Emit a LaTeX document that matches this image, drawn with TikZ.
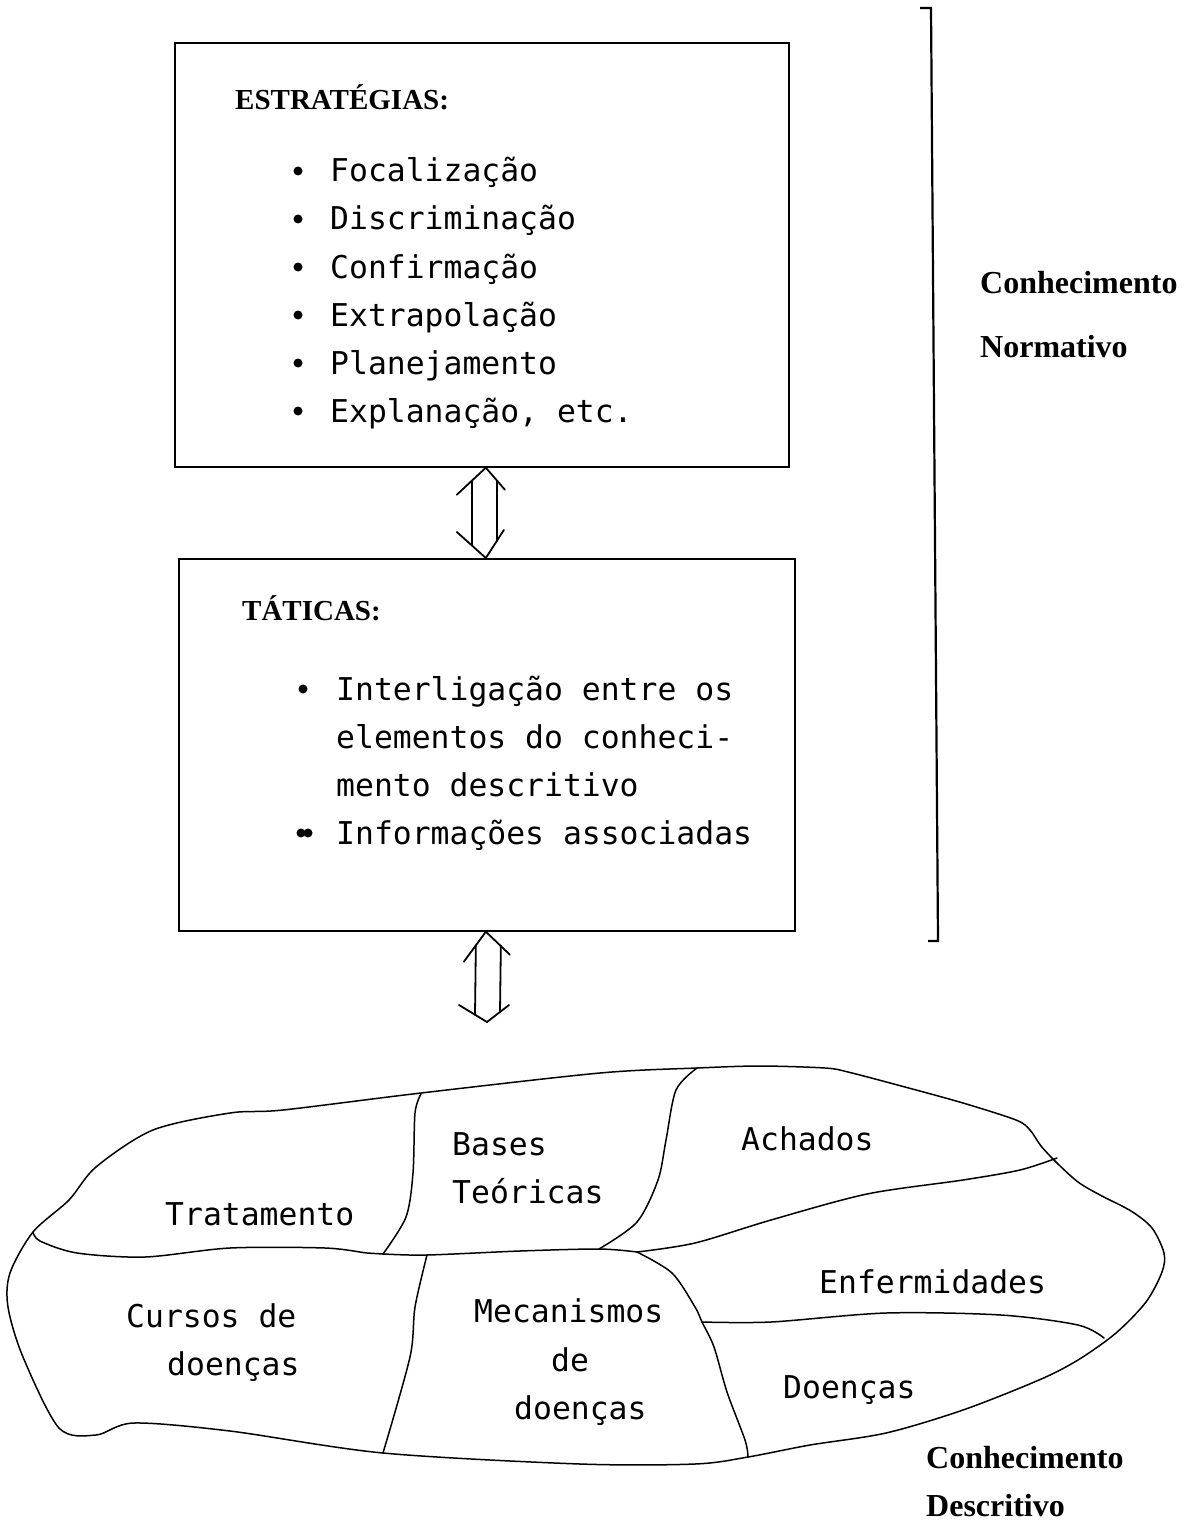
\documentclass[tikz,border=0pt]{standalone}
\usepackage{fontspec}
\setmainfont{Liberation Serif}
\setmonofont{DejaVu Sans Mono}
\usetikzlibrary{calc}
\begin{document}
\begin{tikzpicture}[x=1pt,y=-1pt,
  frame/.style={draw, line width=1.7pt, inner sep=0pt, anchor=north west},
  mono/.style={font=\fontsize{31.4}{36}\selectfont\ttfamily, anchor=base west, inner sep=0pt},
  head/.style={font=\fontsize{29}{34}\selectfont\bfseries, anchor=base west, inner sep=0pt},
  side/.style={font=\fontsize{32}{36}\selectfont\bfseries, anchor=base west, inner sep=0pt},
  dot/.style={fill, circle, inner sep=0pt, minimum size=9pt},
  outline/.style={line width=1.5pt, line join=round, line cap=round},
  dbl/.style={line width=1.8pt, line cap=round, line join=miter}
]
\useasboundingbox (0,0) rectangle (1190,1522);

% --- strategy box ---
\node[frame, minimum width=614pt, minimum height=424pt] (strat) at (174,42) {};
\node[head] (strat-title) at (235,110) {ESTRATÉGIAS:};
\foreach \t [count=\i] in {Focalização,Discriminação,Confirmação,Extrapolação,Planejamento,{Explanação, etc.}} {
  \node[dot] (sb\i) at (298,{182+48*(\i-1)-11}) {};
  \node[mono] (si\i) at (330,{182+48*(\i-1)}) {\t};
}

% --- tactics box ---
\node[frame, minimum width=616pt, minimum height=372pt] (tat) at (178,558) {};
\node[head] (tat-title) at (242,620) {TÁTICAS:};
\node[dot] (tb1) at (303,689) {};
\node[mono] (ti1) at (336,700) {Interligação entre os};
\node[mono] (ti2) at (336,748) {elementos do conheci-};
\node[mono] (ti3) at (336,796) {mento descritivo};
\node[dot] (tb2a) at (301,833) {};
\node[dot] (tb2b) at (308,833) {};
\node[mono] (ti4) at (336,844) {Informações associadas};

% --- double arrows ---
\path (strat.south) ++(4,0) coordinate (a1t);
\path (tat.north) ++(-1,0) coordinate (a1b);
\draw[dbl] ($(a1t)+(-29,27)$) -- (a1t) -- ($(a1t)+(19,22)$);
\draw[dbl] ($(a1b)+(-29,-26)$) -- (a1b) -- ($(a1b)+(18,-28)$);
\draw[dbl] ($(a1t)+(-14,13)$) -- ($(a1b)+(-14,-13)$);
\draw[dbl] ($(a1t)+(11,13)$) -- ($(a1b)+(11,-17)$);

\path (tat.south) ++(-1,0) coordinate (a2t);
\coordinate (a2b) at (487,1022);
\draw[dbl] ($(a2t)+(-22,30)$) -- (a2t) -- ($(a2t)+(24,23)$);
\draw[dbl] ($(a2b)+(-28,-17)$) -- (a2b) -- ($(a2b)+(22,-17)$);
\draw[dbl] ($(a2t)+(-10,14)$) -- ($(a2b)+(-12,-7)$);
\draw[dbl] ($(a2t)+(15,14)$) -- ($(a2b)+(13,-10)$);

% --- bracket of normative knowledge ---
\coordinate (brt) at (931,8);
\coordinate (brb) at (938,941);
\draw[line width=2.2pt] ($(brt)+(-11,0)$) -- (brt) -- (brb) -- ($(brb)+(-10,0)$);
\node[side] (norm1) at (980,293) {Conhecimento};
\node[side] (norm2) at (980,357) {Normativo};

% --- descriptive knowledge map ---
\coordinate (jL) at (33,1232);
\coordinate (j1) at (383,1254);
\coordinate (j2) at (427,1255);
\coordinate (j3) at (599,1249);
\coordinate (j4) at (637,1252);
\coordinate (j5) at (702,1322);

\draw[outline] plot[smooth cycle, tension=0.5] coordinates {
  (jL) (69,1200) (96,1167) (153,1130) (230,1113) (283,1110) (421,1093)
  (600,1073) (697,1068) (760,1066) (825,1068) (848,1072) (905,1087)
  (963,1103) (1016,1120) (1030,1130) (1041,1146) (1057,1163) (1078,1182)
  (1100,1195) (1131,1211) (1152,1228) (1164,1253) (1162,1272) (1146,1302)
  (1116,1333) (1078,1360) (1039,1380) (963,1410) (886,1433) (810,1445)
  (748,1457) (695,1464) (580,1464) (383,1453) (230,1431) (134,1423)
  (96,1435) (59,1428) (23,1357) (8,1307) (10,1273)};

% partitions
\draw[outline] plot[smooth, tension=0.5] coordinates {
  (421,1094) (415,1113) (413,1173) (406,1217) (j1)};
\draw[outline] plot[smooth, tension=0.5] coordinates {
  (jL) (40,1241) (77,1253) (145,1257) (230,1248) (325,1248) (367,1253) (j1) (j2) (520,1251) (j3) (j4)};
\draw[outline] plot[smooth, tension=0.5] coordinates {
  (697,1068) (676,1090) (666,1140) (658,1180) (637,1222) (j3)};
\draw[outline] plot[smooth, tension=0.5] coordinates {
  (j2) (415,1307) (410,1357) (383,1453)};
\draw[outline] plot[smooth, tension=0.5] coordinates {
  (j4) (695,1243) (771,1220) (867,1194) (963,1180) (1020,1170) (1057,1158)};
\draw[outline] plot[smooth, tension=0.5] coordinates {
  (j4) (672,1273) (695,1307) (j5) (714,1347) (727,1392) (745,1440) (748,1457)};
\draw[outline] plot[smooth, tension=0.5] coordinates {
  (j5) (771,1322) (886,1313) (1001,1315) (1078,1325) (1104,1338)};

% region labels
\node[mono] (trat) at (165,1225) {Tratamento};
\node[mono] (bases1) at (452,1155) {Bases};
\node[mono] (bases2) at (452,1203) {Teóricas};
\node[mono] (ach) at (741,1150) {Achados};
\node[mono] (curs1) at (126,1327) {Cursos de};
\node[mono] (curs2) at (167,1375) {doenças};
\node[mono] (mec1) at (474,1322) {Mecanismos};
\node[mono] (mec2) at (551,1371) {de};
\node[mono] (mec3) at (514,1419) {doenças};
\node[mono] (enf) at (819,1293) {Enfermidades};
\node[mono] (doe) at (783,1398) {Doenças};

\node[side] (desc1) at (926,1468) {Conhecimento};
\node[side] (desc2) at (926,1516) {Descritivo};
\end{tikzpicture}
\end{document}
